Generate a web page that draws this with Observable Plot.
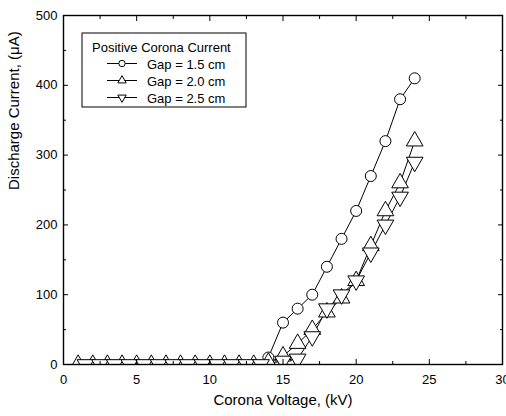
<!DOCTYPE html>
<html>
<head>
<meta charset="utf-8">
<script src="https://cdn.jsdelivr.net/npm/d3@7"></script>
<script src="https://cdn.jsdelivr.net/npm/@observablehq/plot@0.6"></script>
<style>
  html, body { margin: 0; padding: 0; background: #fff; }
  svg { font-family: Arial, "Liberation Sans", sans-serif; }
</style>
</head>
<body>
<div id="chart"></div>
<script>
// ---- data ----
const gap15V = [14, 15, 16, 17, 18, 19, 20, 21, 22, 23, 24];
const gap15I = [10, 60, 80, 100, 140, 180, 220, 270, 320, 380, 410];

const gap20V = [1, 2, 3, 4, 5, 6, 7, 8, 9, 10, 11, 12, 13, 14, 15, 16, 17, 18, 19, 20, 21, 22, 23, 24];
const gap20I = [0, 0, 0, 0, 0, 0, 0, 0, 0, 0, 0, 0, 0, 3, 12, 30, 50, 75, 95, 120, 170, 220, 260, 320];

const gap25V = [1.5, 2.5, 3.5, 4.5, 5.5, 6.5, 7.5, 8.5, 9.5, 10.5, 11.5, 12.5, 13.5, 15, 16, 17, 18, 19, 20, 21, 22, 23, 24];
const gap25I = [0, 0, 0, 0, 0, 0, 0, 0, 0, 0, 0, 0, 0, 5, 8, 40, 80, 100, 120, 160, 200, 240, 290];

const seriesNames = ["Gap = 1.5 cm", "Gap = 2.0 cm", "Gap = 2.5 cm"];
const legendTitle = "Positive Corona Current";
const xTitle = "Corona Voltage, (kV)";
const yTitle = "Discharge Current, (\u03BCA)";

const xMajor = [0, 5, 10, 15, 20, 25, 30];
const xMinor = [2.5, 7.5, 12.5, 17.5, 22.5, 27.5];
const yMajor = [0, 100, 200, 300, 400, 500];
const yMinor = [50, 150, 250, 350, 450];

const toRows = (V, I) => V.map((v, i) => ({v, i: I[i]}));
const s15 = toRows(gap15V, gap15I);
const s20 = toRows(gap20V, gap20I);
const s25 = toRows(gap25V, gap25I);

const lineOpts = {x: "v", y: "i", stroke: "black", strokeWidth: 1, clip: true};
const dotOpts = {x: "v", y: "i", fill: "white", stroke: "black", strokeWidth: 1, clip: true};

const tickMarks = [];
for (const anchor of ["bottom", "top"]) {
  tickMarks.push(Plot.axisX(xMajor, {anchor, tickSize: -5, fill: "none", label: null, strokeWidth: 1}));
  tickMarks.push(Plot.axisX(xMinor, {anchor, tickSize: -3, fill: "none", label: null, strokeWidth: 1}));
}
for (const anchor of ["left", "right"]) {
  tickMarks.push(Plot.axisY(yMajor, {anchor, tickSize: -5, fill: "none", label: null, strokeWidth: 1}));
  tickMarks.push(Plot.axisY(yMinor, {anchor, tickSize: -3, fill: "none", label: null, strokeWidth: 1}));
}

const chart = Plot.plot({
  width: 506,
  height: 416,
  marginLeft: 63,
  marginRight: 4,
  marginTop: 15,
  marginBottom: 52,
  style: {fontFamily: "Arial, 'Liberation Sans', sans-serif", background: "white", color: "black"},
  x: {domain: [0, 30]},
  y: {domain: [0, 500]},
  marks: [
    Plot.line(s15, lineOpts),
    Plot.line(s20, lineOpts),
    Plot.line(s25, lineOpts),
    Plot.dot(s15, {...dotOpts, symbol: "circle", r: 5.5}),
    Plot.dot(s20, {...dotOpts, symbol: "triangle", r: 6.2}),
    Plot.dot(s25, {...dotOpts, symbol: "triangle", r: 6.2, rotate: 180}),
    ...tickMarks,
    Plot.axisX(xMajor, {anchor: "bottom", tickSize: 0, tickPadding: 10, fontSize: 13, label: null}),
    Plot.axisY(yMajor, {anchor: "left", tickSize: 0, tickPadding: 6, fontSize: 13, label: null}),
    Plot.frame({stroke: "black", strokeWidth: 1.4}),
    Plot.text([xTitle], {frameAnchor: "bottom", dy: 40, fontSize: 15, fill: "black"}),
    Plot.text([yTitle], {frameAnchor: "left", dx: -49, rotate: -90, fontSize: 15, fill: "black"})
  ]
});

// ---- legend (drawn into the plot's svg) ----
const svg = d3.select(chart);
const lg = svg.append("g")
  .attr("font-size", 13)
  .attr("text-anchor", "start")
  .attr("font-family", "Arial, 'Liberation Sans', sans-serif");
lg.append("rect")
  .attr("x", 82).attr("y", 33).attr("width", 164).attr("height", 74)
  .attr("fill", "white").attr("stroke", "black").attr("stroke-width", 1);
lg.append("text").attr("x", 92).attr("y", 51.5).attr("fill", "black").text(legendTitle);
const legendSymbols = [
  {type: d3.symbolCircle, size: Math.PI * 3.2 * 3.2, rot: 0},
  {type: d3.symbolTriangle2, size: Math.PI * 4 * 4, rot: 0},
  {type: d3.symbolTriangle2, size: Math.PI * 4 * 4, rot: 180}
];
seriesNames.forEach((name, k) => {
  const cy = 63.5 + k * 17;
  lg.append("line").attr("x1", 107).attr("x2", 137).attr("y1", cy).attr("y2", cy)
    .attr("stroke", "black").attr("stroke-width", 1);
  lg.append("path")
    .attr("d", d3.symbol(legendSymbols[k].type, legendSymbols[k].size)())
    .attr("transform", `translate(122,${cy}) rotate(${legendSymbols[k].rot})`)
    .attr("fill", "white").attr("stroke", "black").attr("stroke-width", 1);
  lg.append("text").attr("x", 147).attr("y", cy + 5).attr("fill", "black").text(name);
});

document.getElementById("chart").appendChild(chart);
</script>
</body>
</html>
